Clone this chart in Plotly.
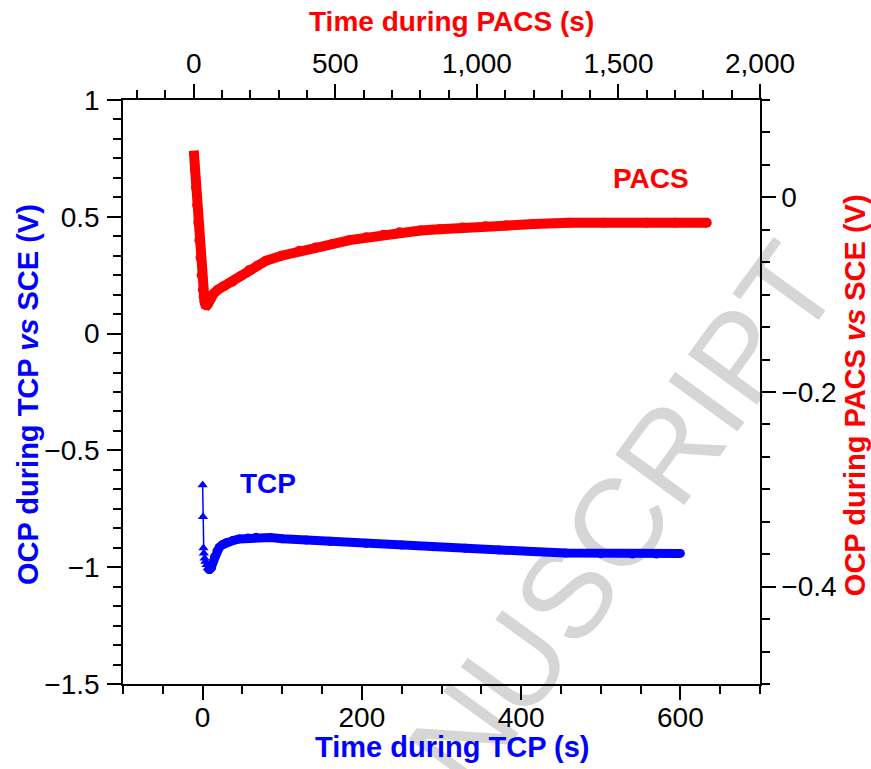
import plotly.graph_objects as go

# ---------------- data ----------------
# TCP: bottom x axis (s), left y axis (V vs SCE)
tcp_t_early = [0, 0.5, 1.0, 1.5, 2.5, 3.5, 5.0, 6.5, 8.0]
tcp_v_early = [-0.648, -0.784, -0.918, -0.94, -0.962, -0.976, -0.99, -1.003, -1.008]

tcp_t = [8, 9, 11, 13, 15, 18, 21, 25, 30, 38, 46, 57, 67, 85, 100, 130, 160,
         205, 250, 289, 330, 372, 414, 456, 500, 540, 570, 600]
tcp_v = [-1.01, -1.01, -1.002, -0.98, -0.955, -0.93, -0.915, -0.904, -0.894,
         -0.886, -0.879, -0.875, -0.872, -0.873, -0.878, -0.884, -0.889,
         -0.898, -0.905, -0.912, -0.919, -0.926, -0.933, -0.939, -0.942,
         -0.944, -0.944, -0.941]

# PACS: top x axis (s), right y axis (V vs SCE)
pacs_t = [0, 4, 8, 12, 16, 20, 24, 28, 32, 35, 38, 41, 44, 47, 51, 56, 62,
          70, 85, 108, 136, 165, 196, 225, 255, 310, 373, 430, 490, 550, 609,
          670, 727, 800, 868, 950, 1030, 1104, 1200, 1328, 1450, 1600, 1700,
          1812]
pacs_v = [0.048, 0.028, 0.010, -0.008, -0.026, -0.044, -0.062, -0.080, -0.095,
          -0.102, -0.107, -0.110, -0.111, -0.1105, -0.109, -0.106, -0.103,
          -0.099, -0.095, -0.091, -0.0868, -0.081, -0.0747, -0.070, -0.0652,
          -0.060, -0.0549, -0.0515, -0.048, -0.044, -0.0411, -0.0385, -0.036,
          -0.034, -0.0329, -0.031, -0.0298, -0.0288, -0.0275, -0.0262,
          -0.0261, -0.0261, -0.0261, -0.0261]

BLUE = "#0000FF"
RED = "#FF0000"
FONT = "Liberation Sans, Arial, Helvetica, sans-serif"

fig = go.Figure()

fig.add_trace(go.Scatter(
    x=tcp_t, y=tcp_v, mode="lines+markers", xaxis="x", yaxis="y",
    line=dict(color=BLUE, width=9),
    marker=dict(symbol="circle", size=9, color=BLUE, line=dict(width=0)),
    showlegend=False, hoverinfo="skip"))
fig.add_trace(go.Scatter(
    x=tcp_t_early, y=tcp_v_early, mode="lines+markers", xaxis="x", yaxis="y",
    line=dict(color=BLUE, width=1.5),
    marker=dict(symbol="triangle-up", size=9, color=BLUE),
    showlegend=False, hoverinfo="skip"))
fig.add_trace(go.Scatter(
    x=pacs_t[1:], y=pacs_v[1:], mode="markers", xaxis="x2", yaxis="y2",
    marker=dict(symbol="circle", size=10, color=RED, line=dict(width=0)),
    showlegend=False, hoverinfo="skip"))
fig.add_trace(go.Scatter(
    x=pacs_t, y=pacs_v, mode="lines", xaxis="x2", yaxis="y2",
    line=dict(color=RED, width=10), showlegend=False, hoverinfo="skip"))

tickfont = dict(family=FONT, size=28, color="black")
common = dict(showgrid=False, zeroline=False, showline=True, linecolor="black",
              linewidth=1.5, ticks="outside", ticklen=14, tickwidth=1.5,
              tickcolor="black", tickfont=tickfont, automargin=False)

fig.update_layout(
    width=871, height=769,
    margin=dict(l=123, r=111, t=100, b=85),
    paper_bgcolor="white", plot_bgcolor="white",
    template="none",
    font=dict(family=FONT, color="black"),
    xaxis=dict(range=[-100, 700], tick0=0, dtick=200, side="bottom",
               ticklabelstandoff=-6,
               minor=dict(dtick=50, tick0=0, ticklen=8, tickwidth=1.5,
                          tickcolor="black", ticks="outside", showgrid=False),
               **common),
    xaxis2=dict(range=[-250, 2000], tick0=0, dtick=500, side="top",
                overlaying="x", tickformat=",",
                minor=dict(dtick=100, tick0=0, ticklen=8, tickwidth=1.5,
                           tickcolor="black", ticks="outside", showgrid=False),
                **common),
    yaxis=dict(range=[-1.5, 1], tick0=0, dtick=0.5, side="left",
               ticklabelstandoff=2,
               minor=dict(dtick=0.5 / 6, tick0=0, ticklen=8, tickwidth=1.5,
                          tickcolor="black", ticks="outside", showgrid=False),
               **common),
    yaxis2=dict(range=[-0.5, 0.1], tick0=0, dtick=0.2, side="right",
                overlaying="y",
                minor=dict(dtick=0.2 / 6, tick0=0, ticklen=8, tickwidth=1.5,
                           tickcolor="black", ticks="outside", showgrid=False),
                **common),
)

annotations = [
    dict(text="<b>Time during TCP (s)</b>", xref="paper", yref="paper",
         x=0.5165, y=-0.108, showarrow=False,
         font=dict(family=FONT, size=29, color=BLUE),
         xanchor="center", yanchor="middle"),
    dict(text="<b>Time during PACS (s)</b>", xref="paper", yref="paper",
         x=0.5150, y=1.1336, showarrow=False,
         font=dict(family=FONT, size=28, color=RED),
         xanchor="center", yanchor="middle"),
    dict(text="<b>OCP during TCP <i>vs</i> SCE (V)</b>", xref="paper",
         yref="paper", x=-0.149, y=0.495, showarrow=False,
         font=dict(family=FONT, size=29, color=BLUE),
         textangle=-90, xanchor="center", yanchor="middle"),
    dict(text="<b>OCP during PACS <i>vs</i> SCE (V)</b>", xref="paper",
         yref="paper", x=1.1495, y=0.495, showarrow=False,
         font=dict(family=FONT, size=29, color=RED),
         textangle=-90, xanchor="center", yanchor="middle"),
    dict(text="<b>TCP</b>", xref="x", yref="y", x=82, y=-0.64,
         showarrow=False, font=dict(family=FONT, size=28, color=BLUE)),
    dict(text="<b>PACS</b>", xref="x2", yref="y2", x=1614, y=0.0198,
         showarrow=False, font=dict(family=FONT, size=28, color=RED)),
]
fig.update_layout(annotations=annotations)

# faint watermark, drawn beneath the data
fig.add_shape(type="line", xref="paper", yref="paper",
              x0=0.505, y0=-0.09, x1=1.035, y1=0.69,
              line=dict(width=0, color="rgba(0,0,0,0)"), layer="below",
              label=dict(text="NUSCRIPT", textposition="middle",
                         yanchor="middle", textangle=-54,
                         font=dict(family=FONT, size=124, color="#d6d6d6")))

fig.write_html("out.html")
